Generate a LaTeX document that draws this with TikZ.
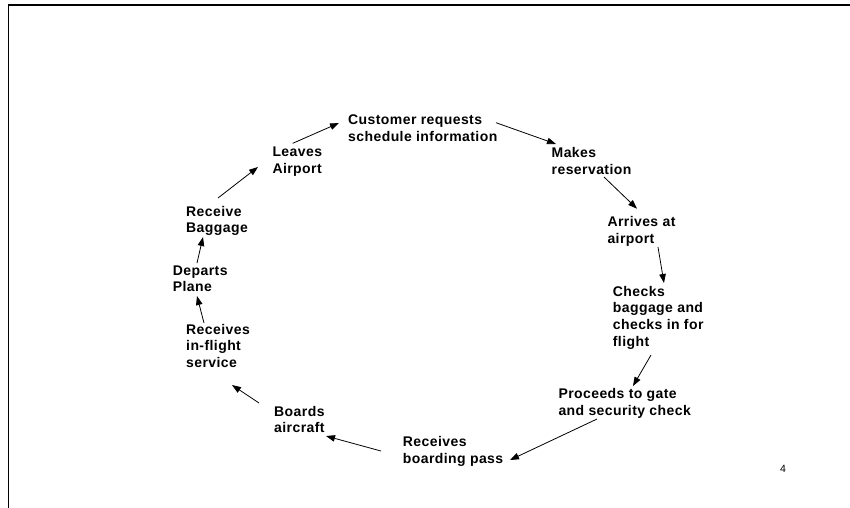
\documentclass[tikz,border=0pt]{standalone}
\usepackage{fontspec}
\setmainfont{Liberation Sans}
\newfontfamily\lblfont[LetterSpace=3]{Liberation Sans}
\usetikzlibrary{arrows.meta}
\tikzset{
  lbl/.style={anchor=base west, inner sep=0pt, align=left, font=\fontsize{14}{16.7}\selectfont\lblfont\bfseries},
  arr/.style={line width=0.8pt, -{Triangle[length=9pt,width=6.5pt]}},
}
\begin{document}
\begin{tikzpicture}[x=1pt,y=-1pt]
\useasboundingbox (0,0) rectangle (850,507);
\draw[line width=1.3pt, line cap=rect] (8.5,507) -- (8.5,5) -- (850,5);
\node[lbl] (cust) at (348,141.2) {Customer requests\\schedule information};
\node[lbl] (makes) at (551.5,174) {Makes\\reservation};
\node[lbl] (arrives) at (607.3,243.4) {Arrives at\\airport};
\node[lbl] (checks) at (612.7,346.1) {Checks\\baggage and\\checks in for\\flight};
\node[lbl] (proceeds) at (558.3,415) {Proceeds to gate\\and security check};
\node[lbl] (pass) at (402.7,463.4) {Receives\\boarding pass};
\node[lbl] (boards) at (274,432.7) {Boards\\aircraft};
\node[lbl] (inflight) at (186,367.4) {Receives\\in-flight\\service};
\node[lbl] (departs) at (172.7,291.7) {Departs\\Plane};
\node[lbl] (baggage) at (186,232.7) {Receive\\Baggage};
\node[lbl] (leaves) at (272.3,173.4) {Leaves\\Airport};
\node[anchor=base west, inner sep=0pt, font=\fontsize{10.5}{12}\selectfont] (page) at (780,472) {4};
\draw[arr] ([shift={(20.4,-30.1)}]leaves.base west) -- ([shift={(-9,-18.2)}]cust.base west);
\draw[arr] ([shift={(148,-18.5)}]cust.base west) -- ([shift={(4.5,-30)}]makes.base west);
\draw[arr] ([shift={(52.5,3)}]makes.base west) -- ([shift={(29.7,-34.7)}]arrives.base west);
\draw[arr] ([shift={(50.7,3.6)}]arrives.base west) -- ([shift={(51.3,-63.1)}]checks.base west);
\draw[arr] ([shift={(38.3,8.9)}]checks.base west) -- ([shift={(74.7,-29)}]proceeds.base west);
\draw[arr] ([shift={(38.7,4)}]proceeds.base west) -- ([shift={(107.3,-3.4)}]pass.base west);
\draw[arr] ([shift={(-21.7,-12.4)}]pass.base west) -- ([shift={(52,3.3)}]boards.base west);
\draw[arr] ([shift={(-15,-29.7)}]boards.base west) -- ([shift={(46,17.6)}]inflight.base west);
\draw[arr] ([shift={(18,-44.4)}]inflight.base west) -- ([shift={(24.3,4.3)}]departs.base west);
\draw[arr] ([shift={(24.3,-28.7)}]departs.base west) -- ([shift={(17,4.3)}]baggage.base west);
\draw[arr] ([shift={(32,-34.7)}]baggage.base west) -- ([shift={(-14.3,-6.4)}]leaves.base west);
\end{tikzpicture}
\end{document}
